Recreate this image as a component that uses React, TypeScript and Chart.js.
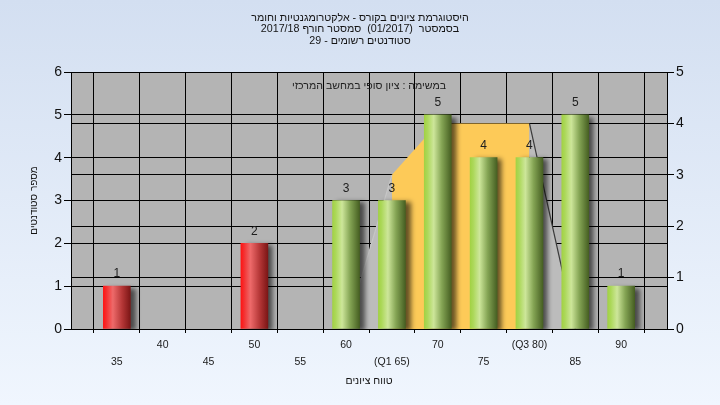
import React, { useEffect, useRef } from 'react';
import { Chart, registerables } from 'chart.js';

Chart.register(...registerables);

// ---- data ----
const titleLines = [
  'היסטוגרמת ציונים בקורס - אלקטרומגנטיות וחומר',
  'בסמסטר  (01/2017)  סמסטר חורף 2017/18',
  'סטודנטים רשומים - 29',
];
const innerCaption = 'במשימה : ציון סופי במחשב המרכזי';
const xAxisTitle = 'טווח ציונים';
const yAxisTitle = 'מספר סטודנטים';

const gradeCategories = [30, 35, 40, 45, 50, 55, 60, 65, 70, 75, 80, 85, 90, 95];
const tickLabels = ['', '35', '40', '45', '50', '55', '60', '(Q1 65)', '70', '75', '(Q3 80)', '85', '90', ''];
const studentCounts = [null, 1, null, null, 2, null, 3, 3, 5, 4, 4, 5, 1, null];
const spreadCurve = [null, null, null, null, null, null, 0, 3, 4, 4, 4, 0, null, null];
const q1Grade = 65;
const q3Grade = 80;
const passGrade = 55;
const leftAxisMax = 6;
const rightAxisMax = 5;

// ---- styling ----
const NARROW = "'Liberation Sans Narrow', 'Liberation Sans', Arial, sans-serif";
const REG = "'Liberation Sans', Arial, sans-serif";
const rtl = (s: string) => '\u202B' + s + '\u202C';
const BAR_W = 27;

const q1Idx = gradeCategories.indexOf(q1Grade);
const q3Idx = gradeCategories.indexOf(q3Grade);

function barGradient(c: any) {
  const chart = c.chart;
  const xs = chart.scales && chart.scales.x;
  const isRed = gradeCategories[c.dataIndex] < passGrade;
  const fallback = isRed ? '#c02020' : '#8ab040';
  if (!xs || c.dataIndex === undefined) return fallback;
  const x = xs.getPixelForValue(c.dataIndex);
  if (!Number.isFinite(x)) return fallback;
  const g = chart.ctx.createLinearGradient(x - BAR_W / 2, 0, x + BAR_W / 2, 0);
  if (isRed) {
    g.addColorStop(0, '#ff1414');
    g.addColorStop(0.12, '#f43030');
    g.addColorStop(0.35, '#ee6a6a');
    g.addColorStop(0.7, '#b43636');
    g.addColorStop(1, '#7c1616');
  } else {
    g.addColorStop(0, '#a2d244');
    g.addColorStop(0.12, '#acd85a');
    g.addColorStop(0.35, '#cde69a');
    g.addColorStop(0.65, '#84a454');
    g.addColorStop(1, '#465f22');
  }
  return g;
}

const decorPlugin = {
  id: 'decor',
  beforeDraw(chart: any) {
    const { ctx, chartArea: a } = chart;
    ctx.save();
    ctx.fillStyle = '#b4b4b4';
    ctx.fillRect(a.left, a.top, a.right - a.left, a.bottom - a.top);
    ctx.restore();
  },
  beforeDatasetsDraw(chart: any) {
    const { ctx, chartArea: a } = chart;
    ctx.save();
    ctx.fillStyle = '#1e1e1e';
    ctx.font = `10.6px ${NARROW}`;
    ctx.textAlign = 'center';
    ctx.textBaseline = 'middle';
    ctx.fillText(rtl(innerCaption), (a.left + a.right) / 2, a.top + 14);
    ctx.restore();
  },
  beforeDatasetDraw(chart: any, args: any) {
    if (args.meta.type === 'bar') {
      const ctx = chart.ctx;
      ctx.save();
      ctx.shadowColor = 'rgba(0,0,0,0.6)';
      ctx.shadowBlur = 5;
      ctx.shadowOffsetX = 5;
      ctx.shadowOffsetY = 2;
    }
  },
  afterDatasetDraw(chart: any, args: any) {
    if (args.meta.type === 'bar') chart.ctx.restore();
  },
  afterDatasetsDraw(chart: any) {
    const { ctx } = chart;
    const meta = chart.getDatasetMeta(0);
    ctx.save();
    ctx.fillStyle = '#202020';
    ctx.font = `12px ${NARROW}`;
    ctx.textAlign = 'center';
    ctx.textBaseline = 'middle';
    meta.data.forEach((el: any, i: number) => {
      const v = studentCounts[i];
      if (v === null || v === undefined) return;
      ctx.fillText(String(v), el.x, el.y - 12);
    });
    ctx.restore();
  },
  afterDraw(chart: any) {
    const { ctx, chartArea: a } = chart;
    ctx.save();
    ctx.translate(34, (a.top + a.bottom) / 2);
    ctx.rotate(-Math.PI / 2);
    ctx.fillStyle = '#141414';
    ctx.font = `10px ${NARROW}`;
    ctx.textAlign = 'center';
    ctx.textBaseline = 'middle';
    ctx.fillText(rtl(yAxisTitle), 0, 0);
    ctx.restore();
  },
};

export default function App() {
  const ref = useRef<HTMLCanvasElement | null>(null);
  useEffect(() => {
    if (!ref.current) return;
    const chart = new Chart(ref.current, {
      type: 'bar',
      data: {
        labels: gradeCategories.map(String),
        datasets: [
          {
            type: 'bar',
            data: studentCounts as any,
            yAxisID: 'y',
            order: 0,
            barThickness: BAR_W,
            backgroundColor: barGradient as any,
            borderWidth: 0,
          },
          {
            type: 'line',
            data: spreadCurve as any,
            yAxisID: 'y1',
            order: 1,
            fill: 'origin',
            pointRadius: 0,
            borderWidth: 1.2,
            tension: 0,
            backgroundColor: '#bcbcbc',
            borderColor: 'rgba(0,0,0,0)',
            segment: {
              backgroundColor: (s: any) =>
                s.p0DataIndex >= q1Idx && s.p1DataIndex <= q3Idx ? '#fdca58' : '#bcbcbc',
              borderColor: (s: any) =>
                s.p1DataIndex === q1Idx ? '#c6c6c6' : s.p0DataIndex === q3Idx ? '#3a3a3a' : 'rgba(0,0,0,0)',
            },
          } as any,
        ],
      },
      options: {
        animation: false,
        responsive: false,
        devicePixelRatio: 1,
        layout: { padding: 0 },
        plugins: {
          legend: { display: false },
          tooltip: { enabled: false },
          title: {
            display: true,
            text: titleLines.map(rtl),
            color: '#141414',
            font: { family: NARROW, size: 10.7, weight: 'normal', lineHeight: '11.7px' },
            padding: { top: 12, bottom: 24.9 },
          },
        },
        scales: {
          x: {
            type: 'category',
            offset: false,
            grid: { color: '#000', lineWidth: 1, tickLength: 4, drawTicks: true },
            border: { color: '#000', width: 1 },
            ticks: {
              autoSkip: false,
              maxRotation: 0,
              minRotation: 0,
              padding: 4,
              color: '#1a1a1a',
              font: { family: REG, size: 10.5, lineHeight: '17px' },
              callback: (_v: any, i: number) => (i % 2 === 1 ? ['', tickLabels[i]] : tickLabels[i]),
            },
            title: {
              display: true,
              text: rtl(xAxisTitle),
              color: '#141414',
              font: { family: NARROW, size: 10.5 },
              padding: { top: 0, bottom: 17.5 },
            },
            afterFit: (s: any) => {
              s.height = 76;
            },
          },
          y: {
            position: 'left',
            min: 0,
            max: leftAxisMax,
            ticks: { stepSize: 1, color: '#111', padding: 2, font: { family: REG, size: 14 } },
            grid: { color: '#000', lineWidth: 1, tickLength: 7 },
            border: { color: '#000', width: 1 },
            afterFit: (s: any) => {
              s.width = 71;
            },
          },
          y1: {
            position: 'right',
            min: 0,
            max: rightAxisMax,
            ticks: { stepSize: 1, color: '#111', padding: 2, font: { family: REG, size: 14 } },
            grid: { color: '#000', lineWidth: 1, tickLength: 7 },
            border: { color: '#000', width: 1 },
            afterFit: (s: any) => {
              s.width = 53;
            },
          },
        },
      } as any,
      plugins: [decorPlugin as any],
    });
    return () => chart.destroy();
  }, []);

  return (
    <div
      style={{
        position: 'fixed',
        left: 0,
        top: 0,
        width: 720,
        height: 405,
        background: 'linear-gradient(#d3dff1, #f0f6fe)',
      }}
    >
      <canvas ref={ref} width={720} height={405} style={{ display: 'block' }} />
    </div>
  );
}
